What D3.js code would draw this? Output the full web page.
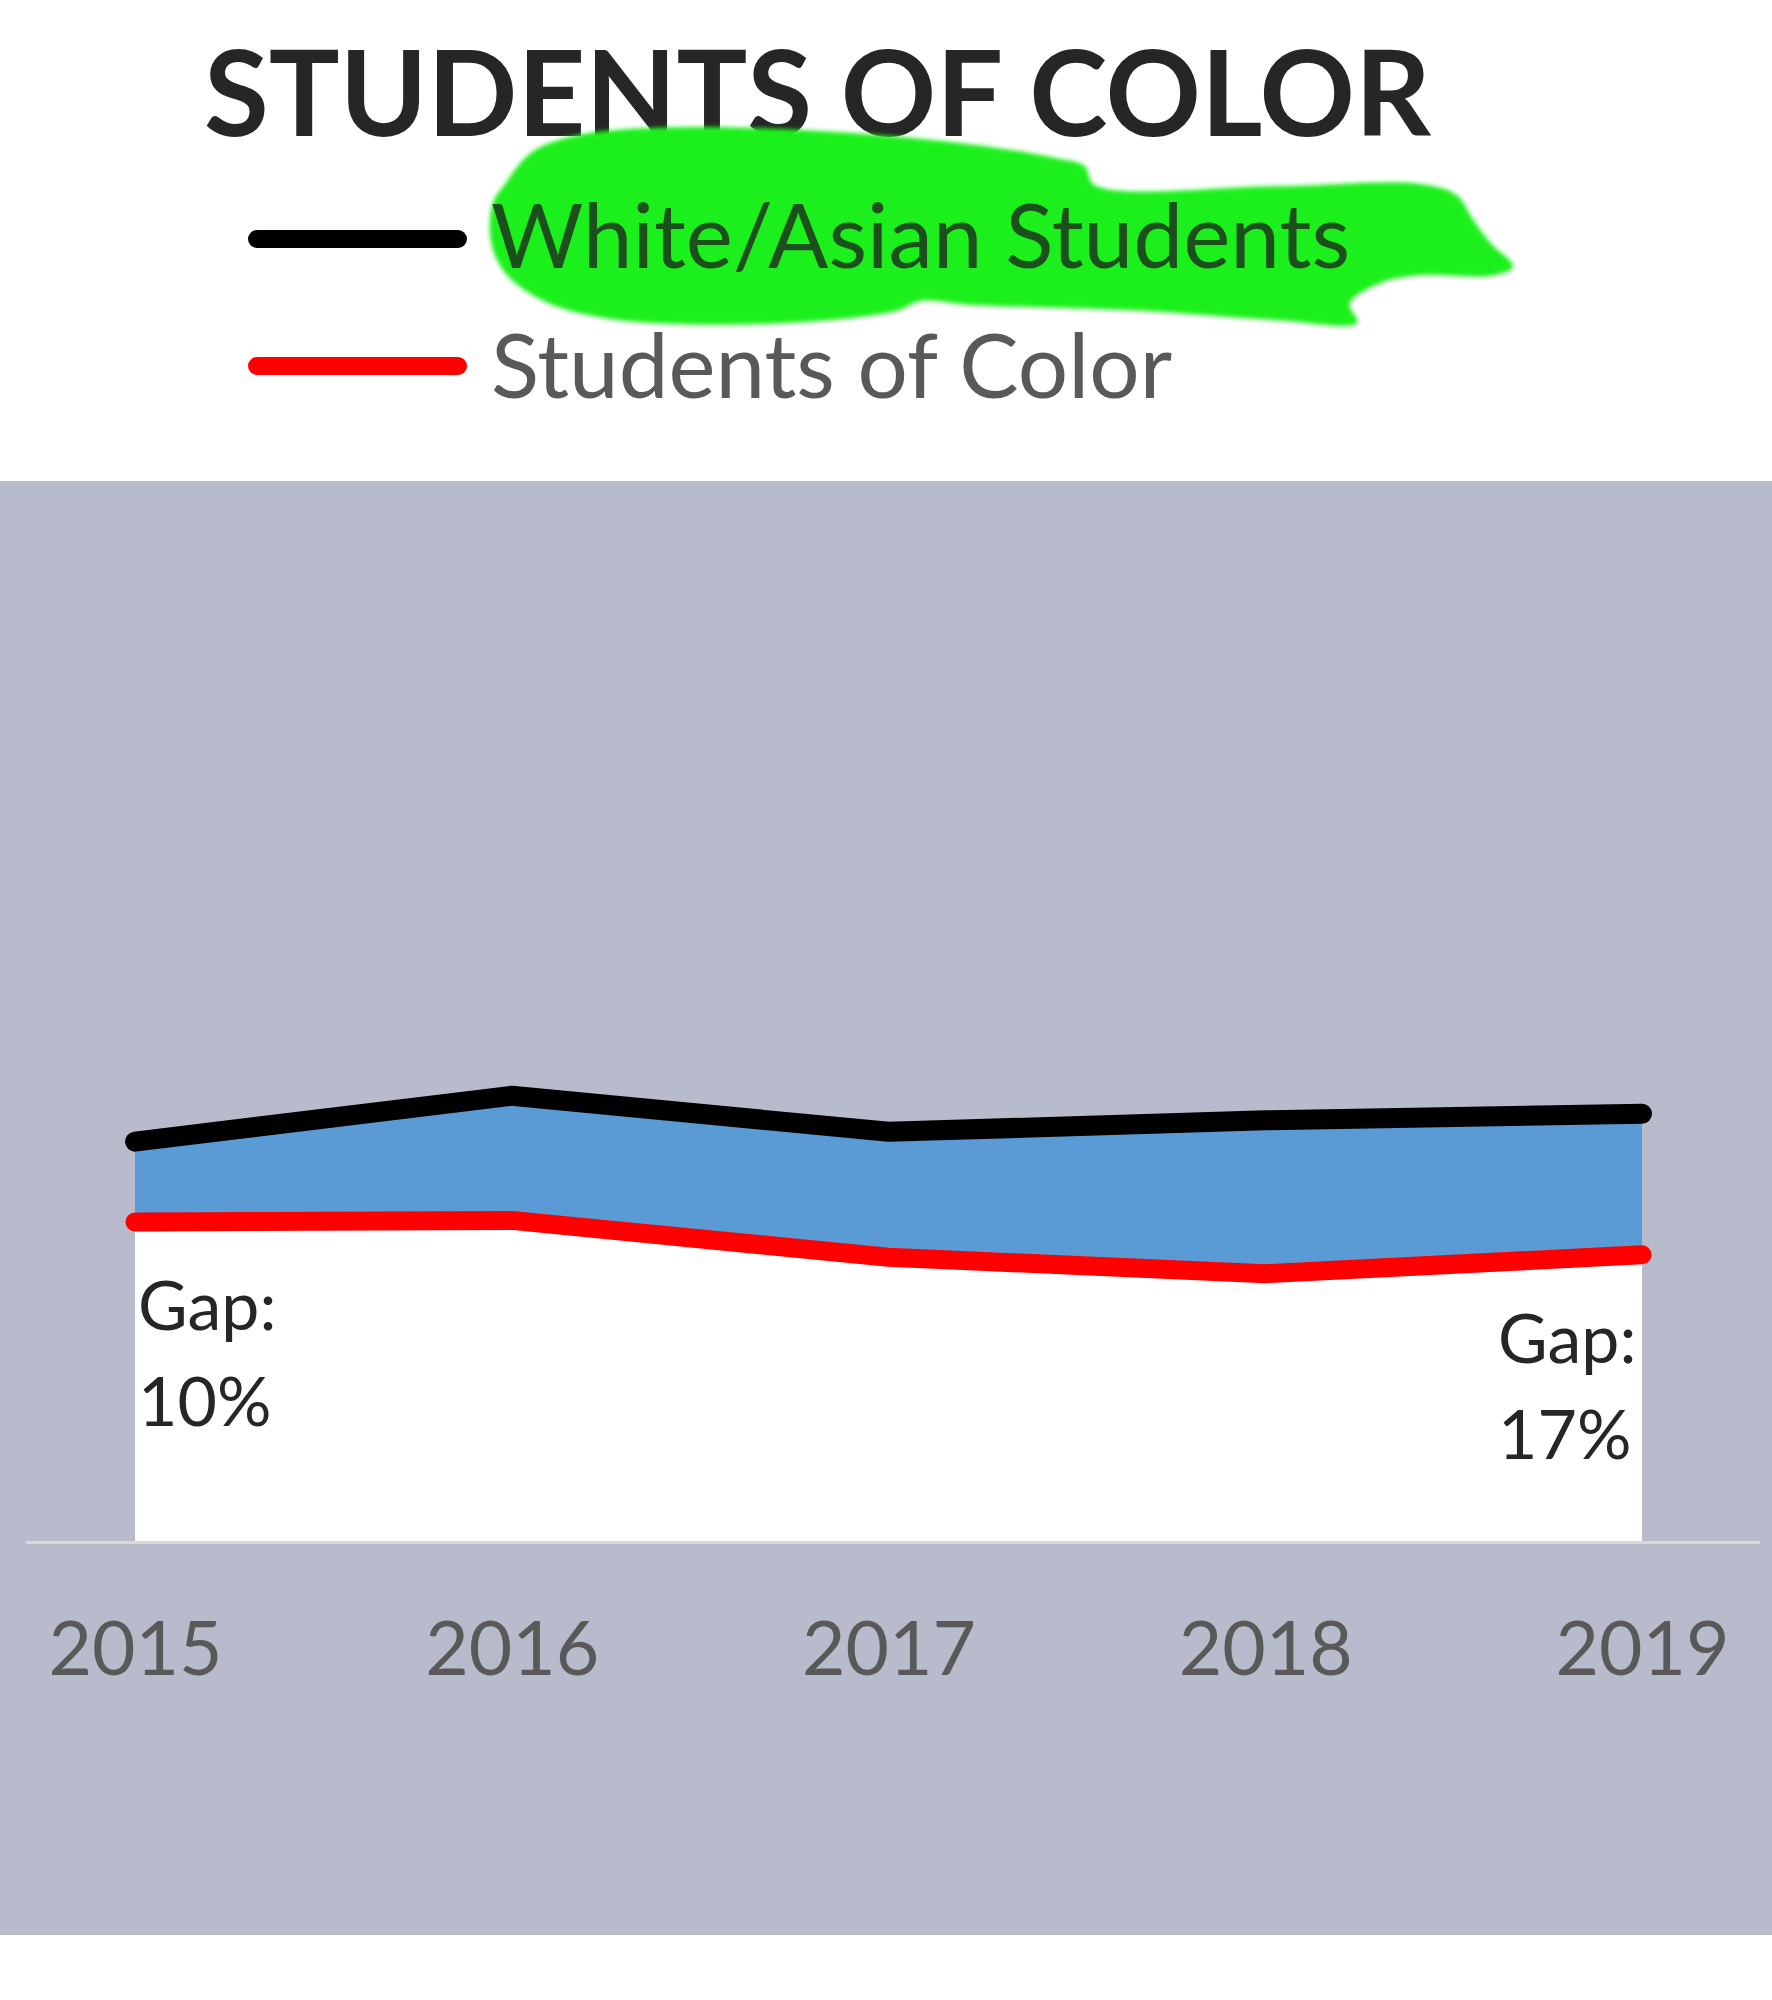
<!DOCTYPE html>
<html>
<head>
<meta charset="utf-8">
<script src="https://cdn.jsdelivr.net/npm/d3@7"></script>
<style>
  html, body { margin: 0; padding: 0; background: #ffffff; }
  svg { display: block; }
</style>
</head>
<body>
<svg id="chart" width="1772" height="2000"></svg>
<script>
// ---- data ----
const years = ["2015", "2016", "2017", "2018", "2019"];
const whiteAsian = [48.7, 54.3, 49.9, 51.3, 52.1];
const studentsOfColor = [38.9, 39.1, 34.6, 32.6, 34.9];
const gapLabels = [
  { year: "2015", lines: ["Gap:", "10%"], side: "left" },
  { year: "2019", lines: ["Gap:", "17%"], side: "right" }
];
const seriesNames = ["White/Asian Students", "Students of Color"];
const titleText = "STUDENTS OF COLOR";

// ---- layout ----
const W = 1772, H = 2000;
const svg = d3.select("#chart");
const FONT = "Lato, 'Open Sans', 'Noto Sans', sans-serif";

const data = years.map((y, i) => ({ year: y, top: whiteAsian[i], bottom: studentsOfColor[i] }));

const x = d3.scalePoint().domain(years).range([135, 1642]);
const y = d3.scaleLinear().domain([0, 100]).range([1541, 721]);

// panel background
svg.append("rect").attr("x", 0).attr("y", 481).attr("width", W).attr("height", 1935 - 481)
  .attr("fill", "#b8bbcc");

// white area below red line
const whiteArea = d3.area().x(d => x(d.year)).y0(y(0)).y1(d => y(d.bottom));
svg.append("path").datum(data).attr("d", whiteArea).attr("fill", "#ffffff");

// blue gap area
const gapArea = d3.area().x(d => x(d.year)).y0(d => y(d.bottom)).y1(d => y(d.top));
svg.append("path").datum(data).attr("d", gapArea).attr("fill", "#5b9bd5");

// baseline
svg.append("line").attr("x1", 26).attr("x2", 1760).attr("y1", y(0) + 1.5).attr("y2", y(0) + 1.5)
  .attr("stroke", "#d9d9d9").attr("stroke-width", 3);

// lines
const lineTop = d3.line().x(d => x(d.year)).y(d => y(d.top));
const lineBottom = d3.line().x(d => x(d.year)).y(d => y(d.bottom));
svg.append("path").datum(data).attr("d", lineBottom).attr("fill", "none")
  .attr("stroke", "#ff0000").attr("stroke-width", 19)
  .attr("stroke-linecap", "round").attr("stroke-linejoin", "round");
svg.append("path").datum(data).attr("d", lineTop).attr("fill", "none")
  .attr("stroke", "#000000").attr("stroke-width", 20)
  .attr("stroke-linecap", "round").attr("stroke-linejoin", "round");

// x axis labels
const xAxis = d3.axisBottom(x).tickSize(0).tickPadding(0);
const gAxis = svg.append("g").attr("transform", `translate(0, ${y(0)})`).call(xAxis);
gAxis.select(".domain").remove();
gAxis.selectAll("text")
  .attr("y", 134).attr("dy", 0)
  .attr("font-family", FONT).attr("font-size", 75)
  .attr("fill", "#595959");

// gap labels
gapLabels.forEach(g => {
  const i = years.indexOf(g.year);
  const gx = g.side === "left" ? x(g.year) + 3 : x(g.year) - 144;
  const base = y(studentsOfColor[i]);
  g.lines.forEach((t, k) => {
    svg.append("text").attr("x", gx).attr("y", base + 108 + k * 96)
      .attr("font-family", FONT).attr("font-size", 68).attr("fill", "#262626")
      .text(t);
  });
});

// title
svg.append("text").attr("x", 204).attr("y", 136)
  .attr("font-family", FONT).attr("font-weight", 700).attr("font-size", 119)
  .attr("fill", "#262626")
  .attr("textLength", 1227).attr("lengthAdjust", "spacingAndGlyphs")
  .text(titleText);

// green highlighter (outline traced in the reference's shrunk coords, scaled)
const s = 1772 / 1389;
const hl = [[386,160],[396,144],[416,120],[448,107],[520,100],[650,103],[760,113],[828,124],[850,130],
  [858,145],[1000,146],[1112,144],[1142,153],[1154,171],[1168,190],[1186,209],[1170,216],[1112,216],
  [1082,222],[1058,238],[1064,253],[1000,251],[900,244],[760,239],[722,236],[702,244],[600,254],
  [478,250],[426,236],[396,214],[385,190]].map(p => [p[0] * s, p[1] * s]);
const defs = svg.append("defs");
defs.append("filter").attr("id", "soft").append("feGaussianBlur").attr("stdDeviation", 2);
svg.append("path").attr("d", d3.line().curve(d3.curveCatmullRomClosed.alpha(0.5))(hl))
  .attr("fill", "#1ff01f").attr("filter", "url(#soft)");

// legend
const legendY = [239, 366];
const legendColors = ["#000000", "#ff0000"];
const legendText = [{ y: 268, len: 859, fill: "#1b4f1b" }, { y: 398, len: 681, fill: "#595959" }];
seriesNames.forEach((name, i) => {
  svg.append("line").attr("x1", 257).attr("x2", 458).attr("y1", legendY[i]).attr("y2", legendY[i])
    .attr("stroke", legendColors[i]).attr("stroke-width", 18).attr("stroke-linecap", "round");
  svg.append("text").attr("x", 491).attr("y", legendText[i].y)
    .attr("font-family", FONT).attr("font-size", 89).attr("fill", legendText[i].fill)
    .attr("textLength", legendText[i].len).attr("lengthAdjust", "spacingAndGlyphs")
    .text(name);
});
</script>
</body>
</html>
